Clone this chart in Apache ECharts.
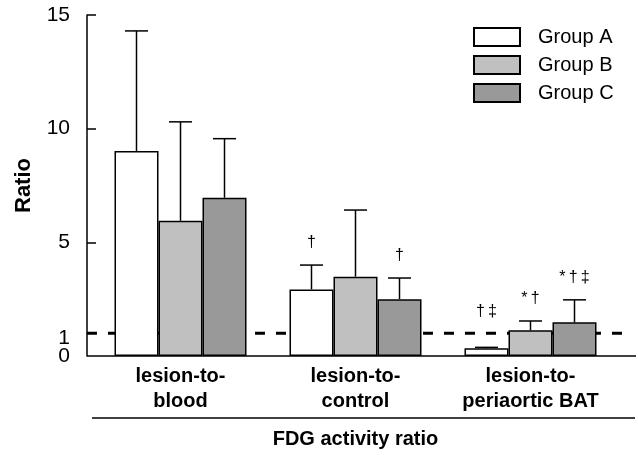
<!DOCTYPE html>
<html>
<head>
<meta charset="utf-8">
<script src="https://cdn.jsdelivr.net/npm/echarts@6/dist/echarts.min.js"></script>
<style>
  html, body { margin: 0; padding: 0; background: #fff; }
  #main { width: 638px; height: 455px; }
</style>
</head>
<body>
<div id="main"></div>
<script>
// values
var categories = ['lesion-to-\nblood', 'lesion-to-\ncontrol', 'lesion-to-\nperiaortic BAT'];
var groupNames = ['Group A', 'Group B', 'Group C'];
var groupA = [9.02, 2.93, 0.34];
var groupB = [5.95, 3.49, 1.13];
var groupC = [6.96, 2.50, 1.48];
// top of the upper error whisker
var errA = [14.3, 4.0, 0.38];
var errB = [10.3, 6.42, 1.54];
var errC = [9.56, 3.43, 2.47];
// significance marks
var marksA = ['', '\u2020', '\u2020\u2009\u2021'];
var marksB = ['', '', '*\u2009\u2020'];
var marksC = ['', '\u2020', '*\u2009\u2020\u2009\u2021'];
var refValue = 1;
var yLabels = [0, 5, 10, 15];
var yTicks = [5, 10, 15];

var FONT = "'Liberation Sans', Arial, sans-serif";
var colors = ['#ffffff', '#c0c0c0', '#999999'];
var means = [groupA, groupB, groupC];
var errs = [errA, errB, errC];
var marks = [marksA, marksB, marksC];
var BAR_W = 44;

var myChart = echarts.init(document.getElementById('main'));

var series = [];

// reference line at 1 and the long baseline
series.push({
  type: 'custom',
  z: 1,
  silent: true,
  data: [[0, refValue]],
  renderItem: function (params, api) {
    var cs = params.coordSys;
    var yRef = api.coord([0, api.value(1)])[1];
    var y0 = api.coord([0, 0])[1];
    return {
      type: 'group',
      children: [
        { type: 'line', shape: { x1: cs.x - 6, y1: yRef, x2: cs.x + cs.width + 6, y2: yRef },
          style: { stroke: '#000', lineWidth: 3, lineDash: [10, 11] } },
        { type: 'line', shape: { x1: cs.x - 6, y1: y0, x2: cs.x + cs.width + 18, y2: y0 },
          style: { stroke: '#000', lineWidth: 1.5 } }
      ]
    };
  }
});

groupNames.forEach(function (name, g) {
  series.push({
    name: name,
    type: 'bar',
    z: 2,
    barWidth: BAR_W,
    barGap: '0%',
    itemStyle: { color: colors[g], borderColor: '#000', borderWidth: 1.5 },
    data: means[g]
  });
});

// error bars and marks
groupNames.forEach(function (name, g) {
  series.push({
    type: 'custom',
    z: 3,
    silent: true,
    data: categories.map(function (c, i) { return [i, means[g][i], errs[g][i]]; }),
    renderItem: function (params, api) {
      var i = api.value(0);
      var base = api.coord([i, api.value(1)]);
      var top = api.coord([i, api.value(2)]);
      var yRef = api.coord([i, refValue])[1];
      var x = base[0] + (g - 1) * BAR_W;
      var children = [
        { type: 'line', shape: { x1: x, y1: base[1], x2: x, y2: top[1] },
          style: { stroke: '#000', lineWidth: 1.5 } },
        { type: 'line', shape: { x1: x - 11.5, y1: top[1], x2: x + 11.5, y2: top[1] },
          style: { stroke: '#000', lineWidth: 1.5 } }
      ];
      var m = marks[g][i];
      if (m) {
        children.push({
          type: 'text',
          style: {
            text: m, x: x, y: Math.min(top[1], yRef) - 22,
            textAlign: 'center', textVerticalAlign: 'middle',
            align: 'center', verticalAlign: 'middle',
            fontSize: 16, fontFamily: FONT, fill: '#000'
          }
        });
      }
      return { type: 'group', children: children };
    }
  });
});

var yBase = {
  type: 'value',
  min: 0,
  max: 15,
  interval: 5,
  offset: 6,
  position: 'left',
  splitLine: { show: false }
};

myChart.setOption({
  animation: false,
  textStyle: { fontFamily: FONT, color: '#000' },
  grid: { left: 93, top: 15, width: 525, height: 341, outerBoundsMode: 'none', containLabel: false },
  legend: {
    data: groupNames,
    orient: 'vertical',
    left: 473,
    top: 27,
    padding: 0,
    itemWidth: 46,
    itemHeight: 18,
    itemGap: 8,
    icon: 'rect',
    selectedMode: false,
    textStyle: { fontSize: 20, fontFamily: FONT, color: '#000', padding: [0, 0, 0, 13] }
  },
  xAxis: {
    type: 'category',
    data: categories,
    axisLine: { show: false },
    axisTick: { show: false },
    axisLabel: {
      fontSize: 20, fontWeight: 'bold', fontFamily: FONT, color: '#000',
      lineHeight: 25, margin: 8, interval: 0
    },
    name: 'FDG activity ratio',
    nameLocation: 'middle',
    nameGap: 73,
    nameTextStyle: { fontSize: 20, fontWeight: 'bold', fontFamily: FONT, color: '#000' }
  },
  yAxis: [
    Object.assign({}, yBase, {
      axisLine: { show: true, lineStyle: { color: '#000', width: 1.5 } },
      axisTick: { show: true, inside: true, length: 9, customValues: yTicks,
        lineStyle: { color: '#000', width: 1.5 } },
      axisLabel: {
        customValues: yLabels,
        showMinLabel: true,
        margin: 17, fontSize: 21, fontFamily: FONT, color: '#000'
      },
      name: 'Ratio',
      nameLocation: 'middle',
      nameGap: 52,
      nameTextStyle: { fontSize: 22, fontWeight: 'bold', fontFamily: FONT, color: '#000' }
    }),
    // second axis only carries the "1" label of the reference line
    Object.assign({}, yBase, {
      axisLine: { show: false },
      axisTick: { show: false },
      axisLabel: {
        customValues: [refValue],
        margin: 17, fontSize: 21, fontFamily: FONT, color: '#000',
        formatter: function (v) { return '{one|' + v + '}'; },
        rich: { one: { fontSize: 21, fontFamily: FONT, color: '#000', padding: [10, 0, 0, 0] } }
      }
    })
  ],
  graphic: [{
    type: 'line',
    shape: { x1: 92, y1: 418, x2: 635, y2: 418 },
    style: { stroke: '#000', lineWidth: 1.5 }
  }],
  series: series
});
</script>
</body>
</html>
